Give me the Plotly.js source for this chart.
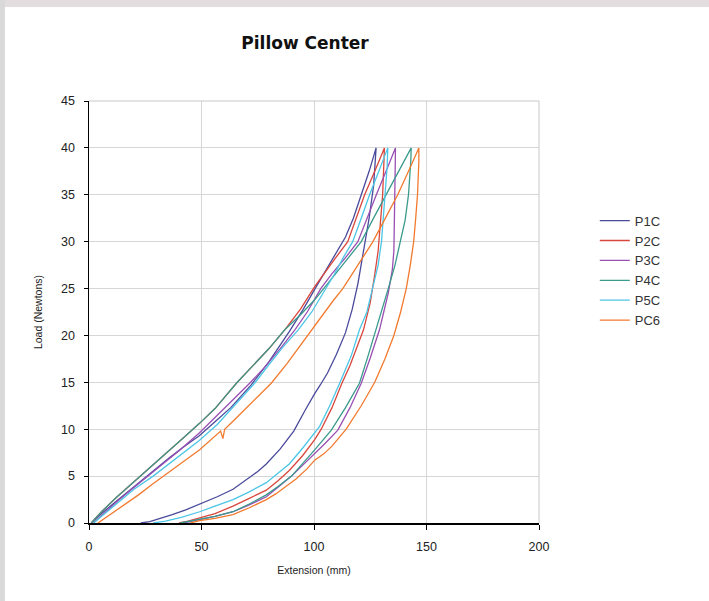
<!DOCTYPE html>
<html>
<head>
<meta charset="utf-8">
<script src="https://cdn.plot.ly/plotly-3.0.1.min.js"></script>
<style>html,body{margin:0;padding:0;background:#fff;}#chart{width:709px;height:601px;}</style>
</head>
<body>
<div id="chart"></div>
<script>
// Series names
const seriesNames = ["P1C", "P2C", "P3C", "P4C", "P5C", "PC6"];

// P1C: loading then unloading
const p1cX = [1, 6, 12, 18, 24, 30, 36, 42, 49, 56, 63, 72, 80, 89, 95, 101, 106, 110, 114, 117.5, 121, 124.5, 127.6,
  127.2, 126.5, 124.5, 122, 119.5, 117, 114, 110, 106, 103, 100.3, 96, 91, 85, 78.8, 75, 70, 64, 57, 49.2, 43, 37, 31, 27, 23];
const p1cY = [0, 1.1, 2.3, 3.5, 4.7, 5.8, 7.0, 8.1, 9.3, 10.8, 12.3, 14.7, 17.2, 20.4, 22.7, 25.2, 27.2, 28.8, 30.5, 32.5, 35, 37.5, 40,
  38, 36, 32.5, 29, 25.5, 22.8, 20.3, 18.0, 16.0, 14.8, 13.8, 12.0, 9.8, 7.9, 6.3, 5.5, 4.6, 3.6, 2.8, 2.0, 1.4, 0.9, 0.4, 0.15, 0];

// P2C
const p2cX = [1, 6, 12, 18, 22.6, 30, 36, 42, 49, 56, 65.5, 73, 80, 87, 94, 100.3, 105, 110, 115, 118.5, 122.5, 127, 131.3,
  131, 130.5, 129.5, 128.5, 127, 125, 122, 119, 116, 112.4, 108, 103.2, 100.3, 95, 89, 84, 78.8, 71, 64, 56, 49.2, 44, 40];
const p2cY = [0, 1.3, 2.7, 4.0, 5.0, 6.6, 7.9, 9.1, 10.6, 12.2, 14.9, 16.8, 18.6, 20.6, 22.8, 25.2, 26.8, 28.4, 30, 32.3, 35, 37.5, 40,
  38, 35, 32, 29, 26.5, 23.5, 20.6, 18.6, 16.8, 14.9, 12.3, 10.0, 8.9, 7.2, 5.6, 4.5, 3.5, 2.6, 1.8, 1.0, 0.5, 0.2, 0];

// P3C
const p3cX = [2, 7, 13, 19, 26.3, 33, 40, 49, 56, 63, 71.4, 78, 85, 91.5, 97, 103, 108, 114, 119.5, 123.5, 127.7, 132, 136.2,
  136.1, 136, 135.8, 135.5, 134.8, 133, 131, 129.1, 125, 121, 116, 110.6, 105, 100.3, 95, 90, 84, 78.8, 71, 64, 56, 49.2, 42];
const p3cY = [0, 1.1, 2.4, 3.6, 5.0, 6.3, 7.7, 9.6, 11.2, 12.9, 14.9, 16.6, 18.6, 20.6, 22.5, 25.0, 26.6, 28.3, 30, 32.5, 35, 37.5, 40,
  38, 35, 32, 29, 27, 24.5, 22.5, 20.6, 17.6, 14.9, 12.3, 9.9, 8.5, 7.4, 6.1, 5.0, 3.8, 2.8, 1.9, 1.2, 0.7, 0.35, 0];

// P4C
const p4cX = [1, 6, 12, 18, 22.6, 30, 36, 42, 49, 56, 65.5, 73, 80, 87, 94, 100.3, 104, 109, 115, 121, 126, 132, 137.5, 143.2,
  143, 142, 140.5, 138.5, 136, 133, 130, 127.5, 124, 120.2, 114, 107.7, 100.3, 95, 90, 84, 78.8, 71, 64, 56, 49.2, 44, 40.5];
const p4cY = [0, 1.3, 2.7, 4.0, 5.0, 6.6, 7.9, 9.1, 10.6, 12.2, 14.9, 16.8, 18.6, 20.6, 22.2, 23.8, 24.9, 26.5, 28.2, 30, 32.3, 35, 37.5, 40,
  38.5, 35, 32.3, 30, 27.5, 25, 22.5, 20.6, 17.8, 14.9, 12.3, 9.9, 7.8, 6.3, 5.0, 3.9, 3.0, 2.0, 1.2, 0.7, 0.4, 0.15, 0];

// P5C
const p5cX = [2, 7, 13, 20, 28.5, 35, 42, 49, 57, 65, 73.6, 80, 86, 93, 99, 104, 109, 113, 117.2, 121, 124.7, 128.8, 132.8,
  132.5, 131.5, 130.5, 130, 128.5, 126, 123.5, 120.2, 116.5, 111.4, 107, 102.5, 100.3, 95, 89, 82, 78.8, 71, 64, 56, 49.2, 41, 34, 28.5];
const p5cY = [0, 1.0, 2.2, 3.6, 5.0, 6.2, 7.5, 8.8, 10.5, 12.6, 14.9, 16.9, 18.7, 20.6, 22.5, 24.5, 26.5, 28.3, 30, 32.5, 35, 37.5, 40,
  38, 35, 32, 30, 27.5, 25, 22.5, 20.6, 17.8, 14.9, 12.5, 10.3, 9.6, 8.0, 6.3, 4.9, 4.3, 3.3, 2.5, 1.8, 1.2, 0.6, 0.2, 0];

// PC6
const pc6X = [4, 10, 16, 22, 28, 33, 39, 44, 49.2, 53, 58.5, 59.5, 60.3, 65, 72, 81, 88, 93.5, 98.8, 104, 108.5, 112.8, 117, 121.5, 126.2, 131.5, 137.2, 142, 146.6,
  146.6, 146.4, 146, 145.2, 144.3, 142.8, 141, 138.5, 135.5, 131.5, 127, 121, 114.3, 108, 104.5, 100.3, 97, 92, 88, 83, 78.8, 71, 64, 56, 49.2, 45];
const pc6Y = [0, 1.0, 2.0, 3.0, 4.1, 5.0, 6.0, 6.9, 7.8, 8.6, 9.8, 9.0, 10.0, 11.1, 12.8, 14.9, 17.0, 18.8, 20.6, 22.3, 23.7, 25.0, 26.6, 28.3, 30, 32.4, 35, 37.5, 40,
  38.5, 36.5, 35, 32.5, 30, 27.5, 25, 22.5, 20, 17.5, 15, 12.5, 10, 8.2, 7.4, 6.7, 5.8, 4.7, 4.0, 3.1, 2.5, 1.6, 0.9, 0.5, 0.25, 0];

const xTicks = [0, 50, 100, 150, 200];
const yTicks = [0, 5, 10, 15, 20, 25, 30, 35, 40, 45];

const colors = ["#4a4a9c", "#d9463c", "#9a4fb3", "#3a9a8c", "#4cc6e6", "#f27a2e"];
const xs = [p1cX, p2cX, p3cX, p4cX, p5cX, pc6X];
const ys = [p1cY, p2cY, p3cY, p4cY, p5cY, pc6Y];

const traces = seriesNames.map((n, i) => ({
  type: "scatter", mode: "lines", name: n, x: xs[i], y: ys[i],
  line: {color: colors[i], width: 1.3}
}));

const fontFam = "Liberation Sans, Arial, sans-serif";
const layout = {
  width: 709, height: 601,
  margin: {l: 89, r: 170, t: 101, b: 78},
  paper_bgcolor: "#ffffff", plot_bgcolor: "#ffffff",
  showlegend: true,
  title: {text: "<b>Pillow Center</b>", font: {family: "DejaVu Sans, sans-serif", size: 17, color: "#111"},
    x: 0.48, xref: "paper", xanchor: "center", y: 1 - 43/601, yref: "container", yanchor: "middle"},
  xaxis: {range: [0, 200], tickvals: xTicks, ticktext: xTicks.map(String),
    showgrid: true, gridcolor: "#d6d6d6", gridwidth: 1, zeroline: false,
    showline: true, linecolor: "#000", linewidth: 1.5, ticks: "outside", ticklen: 5, tickcolor: "#000",
    ticklabelstandoff: 6,
    tickfont: {family: fontFam, size: 12.5, color: "#222"},
    title: {text: "Extension (mm)", font: {family: fontFam, size: 10.5, color: "#222"}, standoff: 14}},
  yaxis: {range: [0, 45], tickvals: yTicks, ticktext: yTicks.map(String),
    showgrid: true, gridcolor: "#d6d6d6", gridwidth: 1, zeroline: false,
    showline: true, linecolor: "#000", linewidth: 1.5, ticks: "outside", ticklen: 4, tickcolor: "#000",
    ticklabelstandoff: 6,
    tickfont: {family: fontFam, size: 12.5, color: "#222"},
    title: {text: "Load (Newtons)", font: {family: fontFam, size: 10.5, color: "#222"}, standoff: 16}},
  legend: {x: 1.124, xanchor: "left", y: 0.752, yanchor: "top", bgcolor: "rgba(0,0,0,0)",
    font: {family: fontFam, size: 13, color: "#333"}, itemwidth: 30, tracegroupgap: 0},
  shapes: [
    {type: "line", xref: "paper", yref: "paper", x0: 0, x1: 1, y0: 1, y1: 1, line: {color: "#c8c8c8", width: 1}},
    {type: "line", xref: "paper", yref: "paper", x0: 1, x1: 1, y0: 0, y1: 1, line: {color: "#c8c8c8", width: 1}},
    {type: "rect", xref: "paper", yref: "paper", x0: -0.2, x1: 1.4, y0: (523-7)/422, y1: 1.3, fillcolor: "#e3dde0", line: {width: 0}, layer: "below"},
    {type: "rect", xref: "paper", yref: "paper", x0: -0.2, x1: -0.198 + 5/450, y0: -0.2, y1: 1.3, fillcolor: "#d9d9d9", line: {width: 0}, layer: "below"}
  ]
};

Plotly.newPlot("chart", traces, layout, {displayModeBar: false, staticPlot: true});
</script>
</body>
</html>
